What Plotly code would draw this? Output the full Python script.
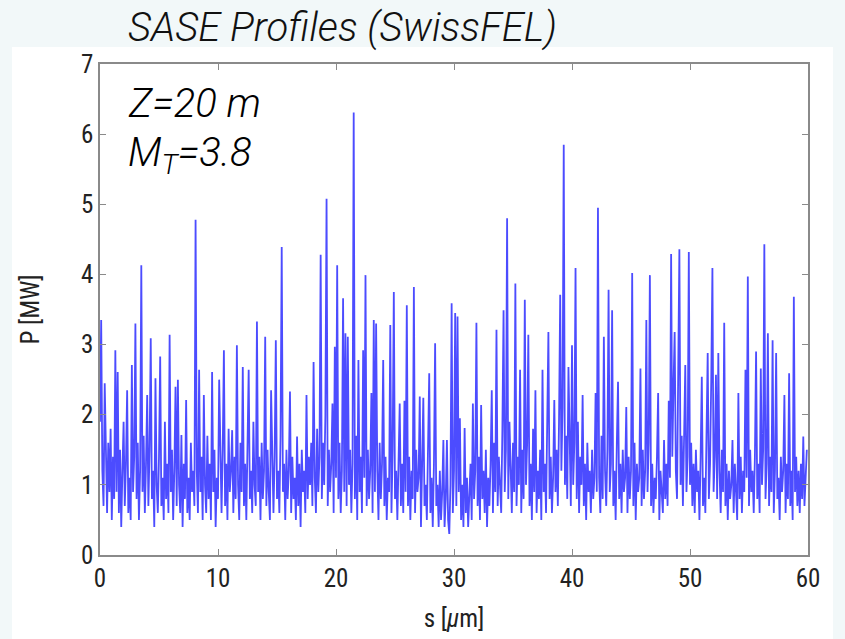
import plotly.graph_objects as go

# Sampling of the longitudinal coordinate s [um]
s_start = 0.0
s_step = 0.1

# Power P [MW], one value per 0.1 um (rows of 2 um)
power_mw = [
    1.9, 3.35, 1.2, 0.7, 2.45, 1.1, 0.6, 1.6, 0.9, 1.8, 0.5, 1.4, 0.8, 2.92, 0.9, 2.61, 0.6, 1.5, 0.4, 1.2,
    1.9, 0.7, 1.3, 2.35, 0.6, 1.1, 0.5, 2.71, 0.9, 1.4, 3.3, 0.8, 1.6, 0.5, 1.2, 4.13, 0.9, 1.7, 0.6, 1.3,
    2.28, 0.7, 1.5, 3.09, 0.8, 1.2, 0.4, 2.52, 1.0, 0.6, 1.4, 2.83, 0.7, 1.1, 0.5, 1.9, 0.8, 1.3, 0.6, 3.14,
    0.9, 1.5, 0.5, 1.2, 2.4, 0.7, 2.5, 1.0, 0.6, 1.71, 0.4, 1.3, 0.8, 2.21, 0.6, 1.1, 0.5, 1.6, 0.9, 1.2,
    0.7, 4.78, 1.2, 0.6, 2.64, 0.9, 1.4, 0.5, 2.28, 1.0, 0.6, 1.7, 0.8, 1.3, 0.5, 2.61, 0.9, 1.5, 0.4, 1.1,
    0.8, 2.5, 1.2, 0.6, 1.5, 2.92, 0.7, 1.3, 0.5, 1.8, 0.9, 1.2, 1.78, 0.6, 1.4, 0.8, 2.99, 1.0, 0.5, 1.6,
    0.9, 2.68, 0.7, 1.3, 0.5, 1.7, 2.64, 0.8, 1.2, 0.6, 1.9, 1.0, 0.7, 3.33, 0.9, 1.4, 0.5, 1.6, 0.8, 1.2,
    3.11, 0.7, 1.5, 0.9, 0.5, 2.35, 1.1, 0.6, 1.4, 3.06, 0.8, 1.2, 0.6, 1.7, 4.39, 0.9, 1.3, 0.5, 1.5, 0.8,
    1.2, 2.33, 0.6, 1.4, 0.8, 1.1, 0.5, 1.69, 0.7, 1.3, 0.4, 1.5, 0.9, 1.2, 0.6, 2.28, 0.8, 1.4, 1.0, 1.6,
    0.7, 2.75, 1.1, 0.6, 1.8, 0.9, 1.4, 4.28, 0.8, 1.6, 1.0, 2.0, 5.08, 0.7, 1.5, 0.9, 1.3, 2.16, 0.6, 2.97,
    1.1, 4.13, 0.8, 1.6, 0.6, 1.2, 3.66, 0.9, 3.16, 0.7, 3.11, 1.0, 1.5, 0.6, 1.3, 6.31, 0.8, 1.7, 0.5, 2.78,
    0.9, 1.4, 0.6, 2.92, 1.1, 3.99, 0.7, 1.5, 0.8, 1.2, 2.31, 0.6, 3.35, 0.9, 3.3, 1.2, 0.5, 1.6, 0.8, 1.3,
    2.78, 0.7, 1.4, 0.5, 1.1, 0.9, 3.28, 0.6, 1.5, 3.75, 0.8, 1.2, 0.5, 1.7, 2.16, 0.7, 1.3, 0.6, 2.2, 0.9,
    3.56, 0.7, 1.4, 0.5, 1.2, 0.8, 3.82, 0.6, 1.5, 0.9, 1.1, 2.26, 0.4, 1.3, 2.24, 0.7, 1.0, 0.5, 1.4, 2.59,
    0.6, 1.1, 0.4, 1.3, 3.02, 0.7, 1.0, 0.4, 1.2, 0.5, 0.9, 1.64, 0.4, 0.8, 1.64, 0.5, 0.3, 1.0, 3.59, 0.6,
    1.2, 3.45, 0.7, 3.4, 0.9, 1.95, 0.5, 1.0, 0.4, 1.81, 0.6, 1.1, 0.4, 0.9, 1.3, 0.5, 2.16, 0.8, 1.2, 3.31,
    0.7, 1.4, 0.5, 2.14, 0.8, 1.2, 0.6, 1.5, 0.4, 1.1, 0.7, 1.3, 2.35, 0.6, 1.6, 0.9, 3.21, 0.7, 1.4, 1.0,
    0.6, 1.8, 3.49, 0.9, 1.5, 4.8, 0.8, 1.9, 1.1, 0.6, 1.6, 0.9, 3.87, 0.7, 1.4, 1.0, 2.64, 0.6, 1.5, 0.8,
    3.64, 1.0, 1.6, 3.14, 0.7, 1.3, 0.5, 1.8, 0.9, 2.35, 0.6, 1.2, 0.8, 1.5, 0.5, 2.64, 0.9, 1.3, 0.6, 1.7,
    3.18, 0.8, 1.4, 0.6, 1.1, 2.21, 0.9, 1.5, 0.7, 1.9, 3.71, 1.2, 2.1, 5.85, 1.0, 1.7, 0.8, 2.68, 1.3, 0.7,
    2.99, 1.0, 1.6, 4.09, 0.8, 1.9, 0.6, 1.4, 1.0, 2.28, 0.7, 1.3, 0.5, 1.6, 0.9, 1.2, 0.6, 1.5, 0.8, 1.1,
    2.31, 0.9, 4.95, 1.1, 0.6, 1.7, 0.8, 3.11, 1.2, 0.7, 1.5, 3.78, 0.9, 1.3, 3.49, 0.7, 1.2, 0.5, 1.6, 2.47,
    0.8, 1.3, 0.6, 1.5, 0.9, 1.1, 2.11, 0.6, 1.4, 0.8, 1.2, 4.02, 0.7, 1.6, 0.5, 1.3, 0.9, 1.1, 2.66, 0.7,
    1.5, 0.8, 1.2, 3.35, 0.9, 1.6, 3.99, 0.7, 1.3, 0.6, 1.1, 0.8, 1.4, 2.31, 0.5, 1.2, 0.9, 0.6, 1.64, 0.8,
    1.3, 0.7, 2.2, 1.1, 4.29, 1.4, 2.4, 3.18, 1.2, 0.8, 2.6, 4.36, 1.0, 1.7, 0.7, 1.5, 2.71, 0.9, 1.4, 4.32,
    1.0, 1.6, 0.7, 1.3, 0.6, 1.5, 0.9, 1.2, 0.5, 1.4, 2.54, 0.7, 1.1, 0.6, 1.5, 2.88, 0.8, 1.3, 2.5, 4.09,
    0.9, 1.4, 2.57, 0.8, 2.88, 1.2, 0.6, 1.5, 0.9, 3.31, 0.7, 1.3, 0.5, 1.2, 0.8, 1.0, 1.64, 0.6, 1.3, 0.9,
    0.5, 2.31, 0.8, 1.4, 0.6, 1.2, 0.9, 2.64, 1.1, 3.97, 0.7, 1.5, 0.9, 1.2, 0.6, 1.4, 2.9, 0.8, 1.3, 0.6,
    2.66, 1.0, 1.5, 4.43, 0.8, 1.3, 3.16, 0.7, 1.4, 0.9, 3.06, 0.6, 1.2, 2.88, 0.8, 1.1, 0.5, 1.4, 0.9, 1.2,
    2.28, 0.6, 1.3, 0.8, 2.59, 0.7, 1.2, 0.5, 3.68, 0.9, 1.4, 0.7, 1.2, 0.6, 1.3, 0.8, 1.69, 0.7, 1.2, 1.5,
]

x_ticks = [0, 10, 20, 30, 40, 50, 60]
y_ticks = [0, 1, 2, 3, 4, 5, 6, 7]

title_text = "SASE Profiles (SwissFEL)"
label_z = "Z=20 m"
label_m = "M<sub>T</sub>=3.8"

W, H = 845, 639
ML, MR, MT, MB = 100, 37, 64, 84
pw, ph = W - ML - MR, H - MT - MB

def px(x):
    return (x - ML) / pw

def py(y):
    return (H - MB - y) / ph

fig = go.Figure()
fig.add_trace(go.Scatter(
    x0=s_start, dx=s_step, y=power_mw, mode="lines",
    line=dict(color="rgba(0,0,255,0.7)", width=1.8),
    showlegend=False, hoverinfo="skip",
))

axis_font = dict(family="Liberation Sans Narrow, Roboto Condensed, Liberation Sans, Arial", size=25, color="#222222")
common = dict(
    showgrid=False, zeroline=False, showline=True, linecolor="#8a8a8a", linewidth=1.5,
    mirror="ticks", ticks="inside", ticklen=6, tickcolor="#8a8a8a", tickwidth=1.2,
    tickfont=axis_font, automargin=False,
)

fig.update_xaxes(range=[0, 60], tickvals=x_ticks, ticktext=[str(v) for v in x_ticks],
                 title=dict(text="s [<i>μ</i>m]", font=axis_font, standoff=18), **common)
fig.update_yaxes(range=[0, 7], tickvals=y_ticks, ticktext=[str(v) for v in y_ticks],
                 title=dict(text="P [MW]", font=axis_font, standoff=34), **common)

fig.add_shape(type="rect", xref="paper", yref="paper", layer="below",
              x0=px(12), x1=px(833), y0=py(639), y1=py(47),
              fillcolor="white", line=dict(width=0))

fig.add_annotation(text=title_text, xref="paper", yref="paper", x=px(126), y=py(28),
                   xanchor="left", yanchor="middle", showarrow=False,
                   font=dict(family="Roboto, Liberation Sans Narrow, Liberation Sans", size=40,
                             color="#111111", style="italic", weight=300))
fig.add_annotation(text=label_z, xref="paper", yref="paper", x=px(126), y=py(104),
                   xanchor="left", yanchor="middle", showarrow=False,
                   font=dict(family="Roboto, Liberation Sans, Arial", size=40, color="#000000",
                             style="italic", weight=300))
fig.add_annotation(text=label_m, xref="paper", yref="paper", x=px(126), y=py(155),
                   xanchor="left", yanchor="middle", showarrow=False,
                   font=dict(family="Roboto, Liberation Sans, Arial", size=40, color="#000000",
                             style="italic", weight=300))

fig.update_layout(
    width=W, height=H, margin=dict(l=ML, r=MR, t=MT, b=MB),
    paper_bgcolor="#f2f8f9", plot_bgcolor="white",
)

fig.write_html("out.html", config={"displayModeBar": False},
               post_script="document.body.style.margin='0';document.body.style.overflow='hidden';")
